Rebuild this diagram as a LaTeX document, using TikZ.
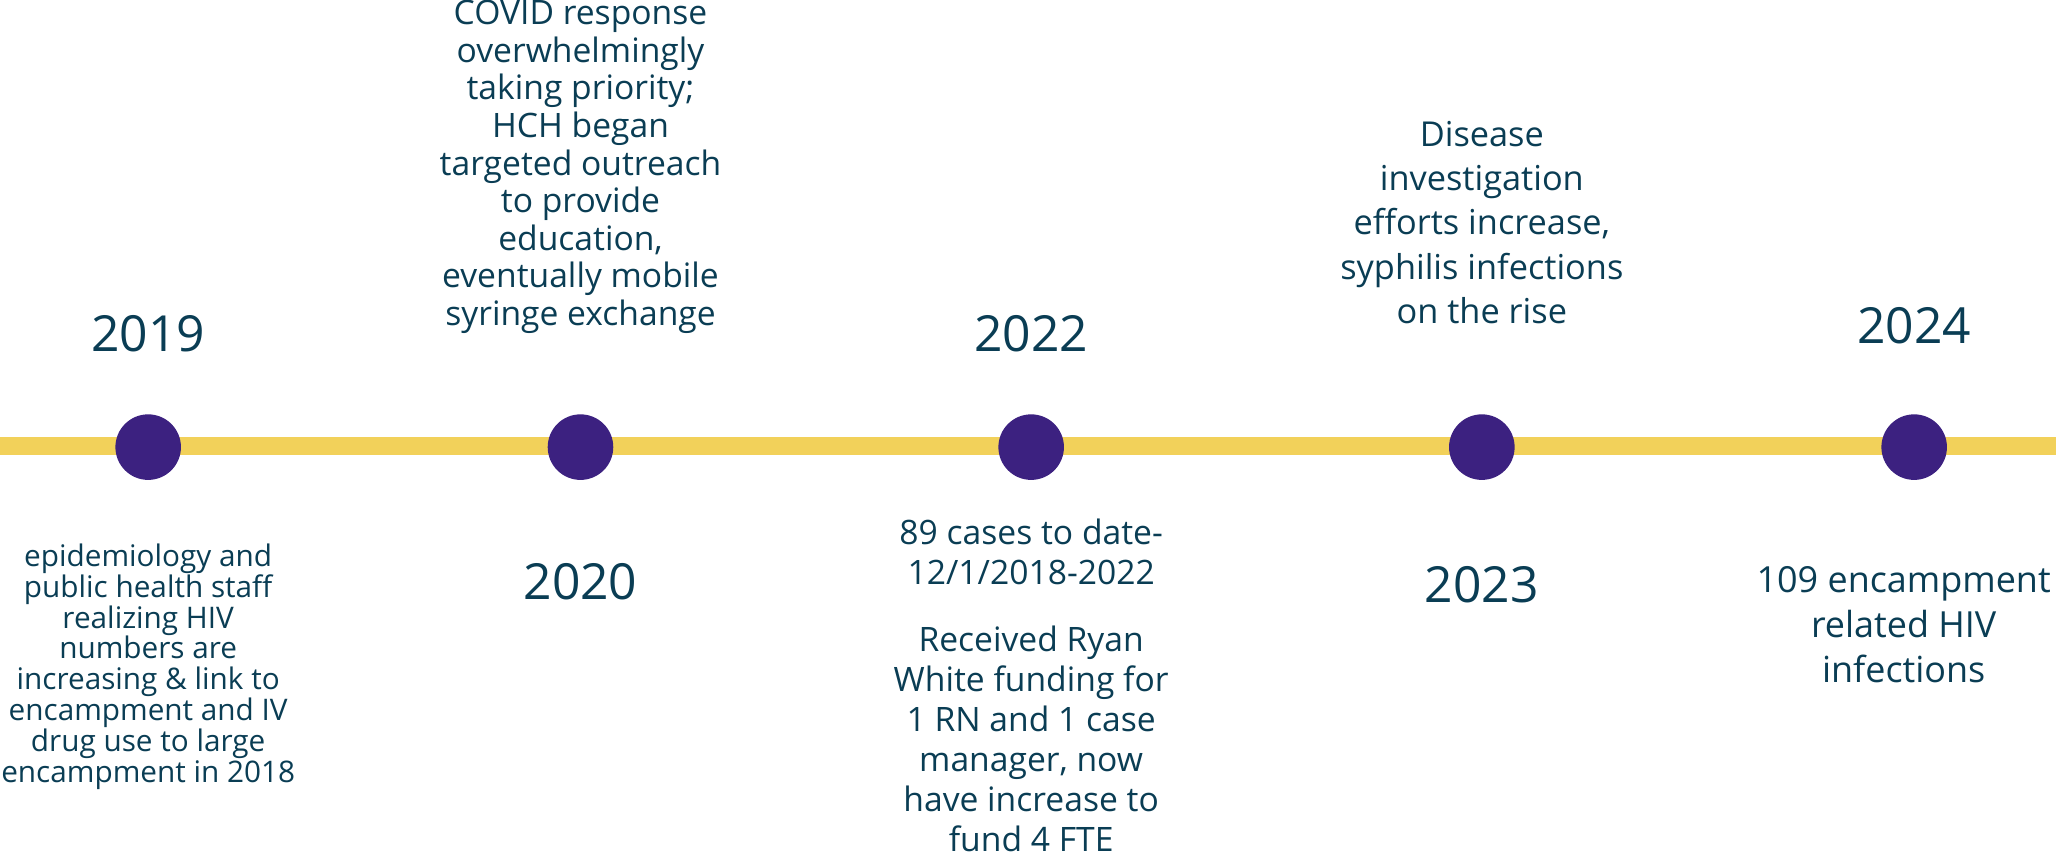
\documentclass[tikz,border=0pt]{standalone}
\usepackage{fontspec}
\setmainfont{Open Sans}
\usetikzlibrary{positioning}
\definecolor{trackyellow}{RGB}{242,209,90}
\definecolor{dotpurple}{RGB}{60,33,128}
\definecolor{inkteal}{RGB}{10,61,84}
\newcommand{\fsz}[2]{\fontsize{#1}{#2}\selectfont}

\begin{document}
\begin{tikzpicture}[
    dot/.style={circle,fill=dotpurple,minimum size=1cm,inner sep=0pt},
    year/.style={text=inkteal,inner sep=0pt,font=\fsz{21.6pt}{26pt}},
    note/.style={text=inkteal,inner sep=0pt,align=center},
    track/.style={trackyellow,line width=8pt}
  ]
  \useasboundingbox (0,0) rectangle (31.36,13.08);
  \coordinate (l) at (0,6.28);
  \coordinate (r) at (31.36,6.28);
  \draw[track] (l) -- (r);
  \node[dot] (d1) at (2.26,6.26) {};
  \node[dot,right=5.58cm of d1] (d2) {};
  \node[dot,right=5.86cm of d2] (d3) {};
  \node[dot,right=5.86cm of d3] (d4) {};
  \node[dot,right=5.58cm of d4] (d5) {};
  \node[year,above=0.94cm of d1] (y1) {2019};
  \node[year,below=1.26cm of d2] (y2) {2020};
  \node[year,above=0.94cm of d3] (y3) {2022};
  \node[year,below=1.3cm of d4] (y4) {2023};
  \node[year,above=1.06cm of d5] (y5) {2024};
  \node[note,font=\fsz{12.9pt}{13.4pt},below=0.96cm of d1] (t1)
    {epidemiology and\\public health staff\\realizing HIV\\numbers are\\increasing \& link to\\encampment and IV\\drug use to large\\encampment in 2018};
  \node[note,font=\fsz{14.6pt}{16.3pt},above=1.22cm of d2] (t2)
    {COVID response\\overwhelmingly\\taking priority;\\HCH began\\targeted outreach\\to provide\\education,\\eventually mobile\\syringe exchange};
  \node[note,font=\fsz{14.6pt}{17.4pt},below=0.58cm of d3] (t3)
    {89 cases to date-\\12/1/2018-2022\\[0.41cm]Received Ryan\\White funding for\\1 RN and 1 case\\manager, now\\have increase to\\fund 4 FTE};
  \node[note,font=\fsz{14.9pt}{19.3pt},above=1.36cm of d4] (t4)
    {Disease\\investigation\\efforts increase,\\syphilis infections\\on the rise};
  \node[note,font=\fsz{15.6pt}{19.6pt},below=1.3cm of d5,xshift=-0.16cm] (t5)
    {109 encampment\\related HIV\\infections};
\end{tikzpicture}
\end{document}
